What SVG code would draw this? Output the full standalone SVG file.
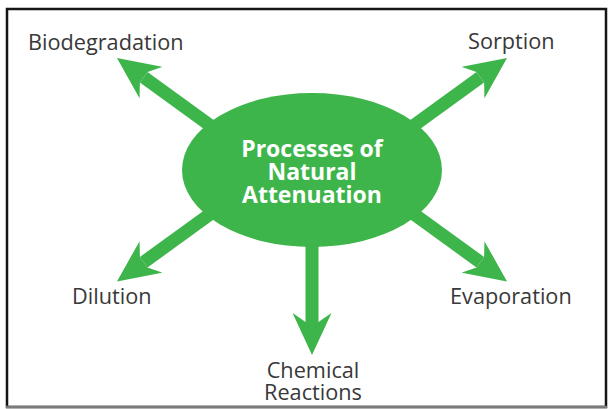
<svg xmlns="http://www.w3.org/2000/svg" width="610" height="409" viewBox="0 0 610 409">
  <style>
    .frame { fill: none; stroke: #151515; stroke-width: 2.5; }
    .shaft { stroke: #3db54a; stroke-width: 13; fill: none; marker-end: url(#head); }
    .label { font-family: "Open Sans", "Liberation Sans", sans-serif; font-size: 21.7px; fill: #383838; }
    .center { font-family: "Open Sans", "Liberation Sans", sans-serif; font-size: 23px; font-weight: 700; fill: #ffffff; text-anchor: middle; }
  </style>
  <defs>
    <marker id="head" markerUnits="userSpaceOnUse" viewBox="0 0 42 39" markerWidth="42" markerHeight="39" refX="9" refY="19.5" orient="auto">
      <path d="M0,0 L42,19.5 L0,39 L9,26 L9,13 Z" fill="#3db54a"/>
    </marker>
  </defs>
  <rect x="0" y="0" width="610" height="409" fill="#ffffff"/>
  <rect class="frame" x="7" y="9" width="599" height="398"/>
  <line x1="6" y1="407" x2="607" y2="407" stroke="#7a7a7a" stroke-width="2.5"/>

  <g id="connectors">
    <line class="shaft" x1="222.3" y1="134.2" x2="143.7" y2="77.3"/>
    <line class="shaft" x1="401.7" y1="134.2" x2="480.3" y2="77.3"/>
    <line class="shaft" x1="222.3" y1="205.3" x2="143.7" y2="262.2"/>
    <line class="shaft" x1="401.7" y1="205.3" x2="480.3" y2="262.2"/>
    <line class="shaft" x1="312" y1="238" x2="312" y2="322"/>
  </g>

  <g id="center-node">
    <ellipse cx="312" cy="170" rx="130" ry="77" fill="#3db54a"/>
    <text class="center" x="312" y="157">Processes of<tspan x="312" dy="23">Natural</tspan><tspan x="312" dy="23">Attenuation</tspan></text>
  </g>

  <g id="biodegradation">
    <text class="label" x="28" y="50">Biodegradation</text>
  </g>
  <g id="sorption">
    <text class="label" x="468" y="49">Sorption</text>
  </g>
  <g id="dilution">
    <text class="label" x="72" y="304">Dilution</text>
  </g>
  <g id="evaporation">
    <text class="label" x="450" y="304">Evaporation</text>
  </g>
  <g id="chemical-reactions">
    <text class="label" x="313" y="378" text-anchor="middle">Chemical<tspan x="313" dy="22">Reactions</tspan></text>
  </g>
</svg>
